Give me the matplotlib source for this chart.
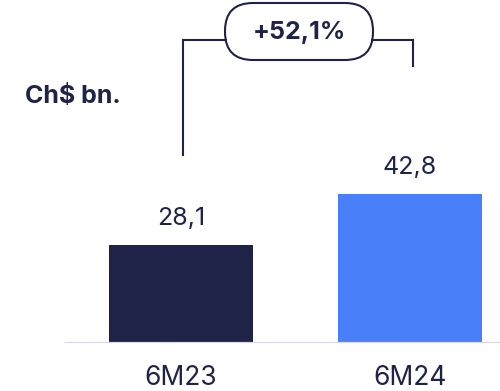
import matplotlib
matplotlib.use('Agg')
from matplotlib import pyplot as plt
from matplotlib.patches import FancyBboxPatch

categories = ['6M23', '6M24']
values = [28.1, 42.8]
value_labels = ['28,1', '42,8']
growth_label = '+52,1%'
unit_label = 'Ch$ bn.'

NAVY = '#1F2348'
BLUE = '#4A7FFA'
BASE = '#D3D7F2'

W, H = 500, 391


def px(x, y):
    # pixel position (from top-left) to figure fraction
    return x / W, 1 - y / H


plt.rcParams['font.family'] = ['Inter', 'DejaVu Sans']

fig = plt.figure(figsize=(W / 100, H / 100), dpi=100)
ax = fig.add_axes([0, 48 / H, 1, 343 / H])
ax.set_xlim(-181 / 229, (W - 181) / 229)
ax.set_ylim(0, 343 / 3.49)
ax.axis('off')

xs = list(range(len(categories)))
ax.bar(xs, values, width=144 / 229, color=[NAVY, BLUE], zorder=2)
ax.axhline(0, xmin=66 / W, xmax=1, color=BASE, lw=1.6, zorder=3)

for x, v, lab, cat in zip(xs, values, value_labels, categories):
    ax.annotate(lab, (x, v), xytext=(0, 20), textcoords='offset pixels',
                ha='center', va='baseline', fontsize=18, color=NAVY)
    ax.annotate(cat, (x, 0), xytext=(0, -42), textcoords='offset pixels',
                ha='center', va='baseline', fontsize=19, color=NAVY)

# bracket connecting the two bars
lw = 1.5
fig.add_artist(plt.Line2D([px(183, 0)[0]] * 2, [px(0, 155)[1], px(0, 40)[1]],
                          color=NAVY, lw=lw))
fig.add_artist(plt.Line2D([px(183, 0)[0], px(226, 0)[0]], [px(0, 40)[1]] * 2,
                          color=NAVY, lw=lw))
fig.add_artist(plt.Line2D([px(372, 0)[0], px(413, 0)[0]], [px(0, 40)[1]] * 2,
                          color=NAVY, lw=lw))
fig.add_artist(plt.Line2D([px(413, 0)[0]] * 2, [px(0, 40)[1], px(0, 66)[1]],
                          color=NAVY, lw=lw))

# pill in pixel units so the round ends stay circular
pill = FancyBboxPatch((225, H - 60), 148, 57, transform=None,
                      boxstyle='round,pad=0,rounding_size=28', fc='white', ec=NAVY, lw=lw)
fig.add_artist(pill)
fig.text(*px(299, 33), growth_label, ha='center', va='center', fontsize=18,
         fontweight='bold', color=NAVY)

fig.text(*px(25, 103), unit_label, ha='left', va='baseline', fontsize=18,
         fontweight='bold', color=NAVY)

fig.savefig('out.png', dpi=100)
